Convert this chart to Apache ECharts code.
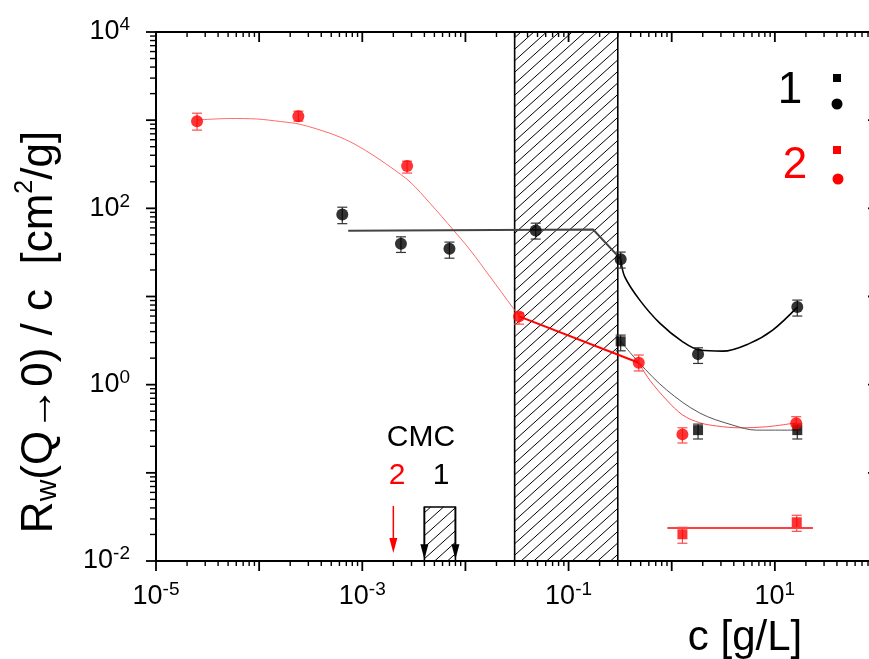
<!DOCTYPE html>
<html>
<head>
<meta charset="utf-8">
<script src="https://cdn.jsdelivr.net/npm/echarts@6/dist/echarts.min.js"></script>
<style>
  html, body { margin: 0; padding: 0; background: #fff; }
  #chart { width: 869px; height: 659px; }
</style>
</head>
<body>
<div id="chart"></div>
<script>
const FONT = '"Liberation Sans", Arial, Helvetica, sans-serif';
const RED = '#ff0000';

// ---- Sample 1 (black), circles: c [g/L], Rw/c [cm^2/g], error limits
const s1CircleC  = [6.4e-4, 0.00237, 0.0070, 0.048, 0.32, 1.80, 16.5];
const s1CircleR  = [85, 39.6, 34.8, 56, 26.5, 2.22, 7.6];
const s1CircleLo = [67, 31.6, 27.2, 44.8, 21.0, 1.74, 6.0];
const s1CircleHi = [103, 47.5, 41.4, 67.9, 31.9, 2.62, 9.1];

// ---- Sample 1 (black), squares
const s1SquareC  = [0.32, 1.80, 16.5];
const s1SquareR  = [3.10, 0.305, 0.305];
const s1SquareLo = [2.42, 0.242, 0.242];
const s1SquareHi = [3.65, 0.357, 0.357];

// ---- Sample 2 (red), circles
const s2CircleC  = [2.5e-5, 2.4e-4, 0.00272, 0.0331, 0.479, 1.27, 16.1];
const s2CircleR  = [975, 1110, 303, 5.95, 1.77, 0.273, 0.364];
const s2CircleLo = [771, 975, 251, 4.86, 1.43, 0.218, 0.306];
const s2CircleHi = [1200, 1265, 343, 6.49, 2.17, 0.324, 0.433];

// ---- Sample 2 (red), squares
const s2SquareC  = [1.27, 16.3];
const s2SquareR  = [0.0201, 0.0275];
const s2SquareLo = [0.0159, 0.0217];
const s2SquareHi = [0.0241, 0.033];

// ---- Guide curves
const guide2LowC = [2.5e-5, 5.2e-5, 9.5e-5, 1.6e-4, 2.49e-4, 4.86e-4, 7.6e-4, 1.19e-3, 1.86e-3, 2.9e-3, 4.54e-3, 7.64e-3, 0.0111, 0.0173, 0.0291, 0.0331];
const guide2LowR = [1004, 1044, 1031, 966, 898, 710, 570, 421, 296, 200, 114, 56.8, 33.7, 16.8, 7.35, 5.95];
const guide2MidC = [0.0331, 0.479];
const guide2MidR = [5.95, 1.77];
const guide2HighC = [0.479, 0.612, 0.895, 1.28, 1.87, 2.73, 4.56, 8.33, 16.3];
const guide2HighR = [1.77, 1.127, 0.668, 0.452, 0.370, 0.340, 0.324, 0.333, 0.370];
const guide2SquareC = [0.908, 23.4];
const guide2SquareR = [0.0237, 0.0237];

const guide1PlateauC = [7.3e-4, 0.173, 0.321];
const guide1PlateauR = [55.6, 57.5, 26.5];
const guide1HighC = [0.321, 0.351, 0.49, 0.766, 1.28, 1.87, 3.12, 5.70, 9.52, 16.5];
const guide1HighR = [26.3, 16.7, 9.1, 4.99, 3.06, 2.47, 2.40, 2.94, 4.16, 7.58];
const guide1SquareC = [0.321, 0.479, 0.895, 1.87, 3.90, 6.66, 16.3];
const guide1SquareR = [3.10, 1.79, 0.869, 0.477, 0.348, 0.305, 0.305];

// ---- Hatched concentration ranges [cMin, cMax, RMin, RMax]
const hatchRanges = [
  [0.03, 0.3, 0.01, 1e4],
  [0.004, 0.008, 0.01, 0.041]
];

// ---- CMC arrows [c, R start, R tip]
const cmcArrows2 = [[0.002, 0.042, 0.0123]];
const cmcArrows1 = [[0.004, 0.041, 0.0105], [0.008, 0.041, 0.0105]];

// ---- Axis ranges and labelled decades
const xMin = 1e-5, xMax = 100;
const yMin = 1e-2, yMax = 1e4;
const xLabelExps = [-5, -3, -1, 1];
const yLabelExps = [-2, 0, 2, 4];

function pairs(xs, ys) { return xs.map((x, i) => [x, ys[i]]); }
function errRows(xs, lo, hi) { return xs.map((x, i) => [x, lo[i], hi[i]]); }

// log-decade tick marks (major at decades, minor at 2..9)
function logTicks(min, max) {
  const out = [];
  const e0 = Math.round(Math.log10(min)), e1 = Math.round(Math.log10(max));
  for (let e = e0; e <= e1; e++) {
    for (let m = 1; m <= 9; m++) {
      const v = m * Math.pow(10, e);
      if (v > max * 1.0001) break;
      out.push([v, m === 1 ? 1 : 0]);
    }
  }
  return out;
}
const xTicks = logTicks(xMin, xMax).map(t => [t[0], yMin, t[1]]);
const yTicks = logTicks(yMin, yMax).map(t => [xMin, t[0], t[1]]);

function fmtLabel(exps) {
  return function (v) {
    const e = Math.round(Math.log10(v));
    if (exps.indexOf(e) < 0) return '';
    return '{b|10}{s|' + e + '}';
  };
}
const labelRich = {
  b: { fontSize: 27, fontFamily: FONT, color: '#000' },
  s: { fontSize: 19, fontFamily: FONT, color: '#000', padding: [0, 0, 14, 0] }
};

function errorBars(color) {
  return function (params, api) {
    const x = api.value(0);
    const a = api.coord([x, api.value(1)]);
    const b = api.coord([x, api.value(2)]);
    const w = 5;
    const st = { stroke: color, lineWidth: 1.2 };
    return {
      type: 'group', children: [
        { type: 'line', shape: { x1: a[0], y1: a[1], x2: b[0], y2: b[1] }, style: st },
        { type: 'line', shape: { x1: a[0] - w, y1: a[1], x2: a[0] + w, y2: a[1] }, style: st },
        { type: 'line', shape: { x1: b[0] - w, y1: b[1], x2: b[0] + w, y2: b[1] }, style: st }
      ]
    };
  };
}

function hatchRender(params, api) {
  const p0 = api.coord([api.value(0), api.value(2)]);
  const p1 = api.coord([api.value(1), api.value(3)]);
  const L = p0[0], R = p1[0], T = p1[1], B = p0[1];
  const k = 0.9;          // slope of hatch lines (dy/dx, rising to the right)
  const step = 11.5;      // vertical distance between hatch lines
  const children = [];
  // lines: y = c - k*x
  const cStart = T + k * L, cEnd = B + k * R;
  for (let c = cStart + step / 2; c < cEnd; c += step) {
    let xs = Math.max(L, (c - B) / k);
    let xe = Math.min(R, (c - T) / k);
    if (xe - xs > 0.5) {
      children.push({
        type: 'line',
        shape: { x1: xs, y1: c - k * xs, x2: xe, y2: c - k * xe },
        style: { stroke: '#000', lineWidth: 1 }
      });
    }
  }
  children.push({
    type: 'rect',
    shape: { x: L, y: T, width: R - L, height: B - T },
    style: { fill: 'none', stroke: '#000', lineWidth: 1.6 }
  });
  return { type: 'group', children: children };
}

function arrowRender(color) {
  return function (params, api) {
    const x = api.value(0);
    const a = api.coord([x, api.value(1)]);
    const tip = api.coord([x, api.value(2)]);
    const headLen = 15, headW = 4;
    return {
      type: 'group', children: [
        { type: 'line', shape: { x1: a[0], y1: a[1], x2: tip[0], y2: tip[1] - headLen + 2 }, style: { stroke: color, lineWidth: 1.5 } },
        { type: 'polygon', shape: { points: [[tip[0] - headW, tip[1] - headLen], [tip[0] + headW, tip[1] - headLen], [tip[0], tip[1]]] }, style: { fill: color } }
      ]
    };
  };
}

function xTickRender(params, api) {
  const v = api.value(0);
  const major = api.value(2) === 1;
  const bot = api.coord([v, yMin]);
  const top = api.coord([v, yMax]);
  const lb = major ? 10 : 5, lt = major ? 10 : 5;
  const st = { stroke: '#000', lineWidth: major ? 1.8 : 1.4 };
  return {
    type: 'group', children: [
      { type: 'line', shape: { x1: bot[0], y1: bot[1], x2: bot[0], y2: bot[1] + lb }, style: st },
      { type: 'line', shape: { x1: top[0], y1: top[1], x2: top[0], y2: top[1] + lt }, style: st }
    ]
  };
}

function yTickRender(params, api) {
  const v = api.value(1);
  const major = api.value(2) === 1;
  const left = api.coord([xMin, v]);
  const right = api.coord([xMax, v]);
  const len = major ? 10 : 6;
  const st = { stroke: '#000', lineWidth: major ? 1.8 : 1.4 };
  return {
    type: 'group', children: [
      { type: 'line', shape: { x1: left[0] - len, y1: left[1], x2: left[0], y2: left[1] }, style: st },
      { type: 'line', shape: { x1: right[0] - len, y1: right[1], x2: right[0], y2: right[1] }, style: st }
    ]
  };
}

const chart = echarts.init(document.getElementById('chart'), null, { renderer: 'canvas' });

const option = {
  animation: false,
  backgroundColor: '#fff',
  grid: {
    left: 156, top: 32, width: 722, height: 529,
    show: true, borderColor: '#000', borderWidth: 2,
    outerBoundsMode: 'none', containLabel: false
  },
  xAxis: {
    type: 'log', logBase: 10, min: xMin, max: xMax,
    axisLine: { show: false }, axisTick: { show: false },
    splitLine: { show: false }, minorTick: { show: false },
    axisLabel: { margin: 19, formatter: fmtLabel(xLabelExps), rich: labelRich, showMinLabel: true, showMaxLabel: true }
  },
  yAxis: {
    type: 'log', logBase: 10, min: yMin, max: yMax,
    axisLine: { show: false }, axisTick: { show: false },
    splitLine: { show: false }, minorTick: { show: false },
    axisLabel: { margin: 26, formatter: fmtLabel(yLabelExps), rich: labelRich, showMinLabel: true, showMaxLabel: true }
  },
  series: [
    { type: 'custom', name: 'hatch', clip: false, z: 1, data: hatchRanges,
      encode: { x: [0, 1], y: [2, 3] }, renderItem: hatchRender },
    { type: 'custom', name: 'xticks', clip: false, z: 5, data: xTicks,
      encode: { x: 0, y: 1 }, renderItem: xTickRender },
    { type: 'custom', name: 'yticks', clip: false, z: 5, data: yTicks,
      encode: { x: 0, y: 1 }, renderItem: yTickRender },
    { type: 'custom', name: 'cmc2', clip: false, z: 4, data: cmcArrows2,
      encode: { x: 0, y: [1, 2] }, renderItem: arrowRender(RED) },
    { type: 'custom', name: 'cmc1', clip: false, z: 4, data: cmcArrows1,
      encode: { x: 0, y: [1, 2] }, renderItem: arrowRender('#000') },

    // guide curves
    { type: 'line', z: 2, data: pairs(guide2LowC, guide2LowR), showSymbol: false, smooth: 0.3,
      lineStyle: { color: '#ff6b6b', width: 1 } },
    { type: 'line', z: 2, data: pairs(guide2MidC, guide2MidR), showSymbol: false,
      lineStyle: { color: RED, width: 2 } },
    { type: 'line', z: 2, data: pairs(guide2HighC, guide2HighR), showSymbol: false, smooth: 0.35,
      lineStyle: { color: '#ff5050', width: 1 } },
    { type: 'line', z: 2, data: pairs(guide2SquareC, guide2SquareR), showSymbol: false,
      lineStyle: { color: RED, width: 1.6 } },
    { type: 'line', z: 2, data: pairs(guide1PlateauC, guide1PlateauR), showSymbol: false,
      lineStyle: { color: '#444', width: 2 } },
    { type: 'line', z: 2, data: pairs(guide1HighC, guide1HighR), showSymbol: false, smooth: 0.35,
      lineStyle: { color: '#000', width: 1.6 } },
    { type: 'line', z: 2, data: pairs(guide1SquareC, guide1SquareR), showSymbol: false, smooth: 0.35,
      lineStyle: { color: '#555', width: 1 } },

    // error bars
    { type: 'custom', z: 3, clip: false, data: errRows(s1CircleC, s1CircleLo, s1CircleHi),
      encode: { x: 0, y: [1, 2] }, renderItem: errorBars('#333') },
    { type: 'custom', z: 3, clip: false, data: errRows(s1SquareC, s1SquareLo, s1SquareHi),
      encode: { x: 0, y: [1, 2] }, renderItem: errorBars('#333') },
    { type: 'custom', z: 3, clip: false, data: errRows(s2CircleC, s2CircleLo, s2CircleHi),
      encode: { x: 0, y: [1, 2] }, renderItem: errorBars('#ff4a4a') },
    { type: 'custom', z: 3, clip: false, data: errRows(s2SquareC, s2SquareLo, s2SquareHi),
      encode: { x: 0, y: [1, 2] }, renderItem: errorBars('#ff4a4a') },

    // measured points
    { type: 'scatter', z: 6, data: pairs(s1CircleC, s1CircleR), symbol: 'circle', symbolSize: 12,
      itemStyle: { color: '#000' } },
    { type: 'scatter', z: 6, data: pairs(s1SquareC, s1SquareR), symbol: 'rect', symbolSize: 10,
      itemStyle: { color: '#000' } },
    { type: 'scatter', z: 6, data: pairs(s2CircleC, s2CircleR), symbol: 'circle', symbolSize: 12,
      itemStyle: { color: RED } },
    { type: 'scatter', z: 6, data: pairs(s2SquareC, s2SquareR), symbol: 'rect', symbolSize: 10,
      itemStyle: { color: RED } }
  ],
  graphic: [
    // axis titles
    { type: 'text', x: 745, y: 638, style: { text: 'c [g/L]', font: '42px ' + FONT, fill: '#000',
      textAlign: 'center', textVerticalAlign: 'middle' } },
    { type: 'text', x: 40, y: 332, rotation: Math.PI / 2,
      style: {
        text: '{a|R}{w|w}{a|(Q\u21920) / c  [cm}{p|2}{a|/g]}',
        textAlign: 'center', textVerticalAlign: 'middle',
        rich: {
          a: { fontSize: 44, fontFamily: FONT, fill: '#000' },
          w: { fontSize: 30, fontFamily: FONT, fill: '#000', padding: [16, 0, 0, 0] },
          p: { fontSize: 25, fontFamily: FONT, fill: '#000', padding: [0, 0, 30, 0] }
        }
      } },
    // CMC annotation
    { type: 'text', x: 421, y: 438, style: { text: 'CMC', font: '30px ' + FONT, fill: '#000',
      textAlign: 'center', textVerticalAlign: 'middle' } },
    { type: 'text', x: 397, y: 476, style: { text: '2', font: '30px ' + FONT, fill: RED,
      textAlign: 'center', textVerticalAlign: 'middle' } },
    { type: 'text', x: 441, y: 476, style: { text: '1', font: '30px ' + FONT, fill: '#000',
      textAlign: 'center', textVerticalAlign: 'middle' } },
    // sample key
    { type: 'text', x: 790, y: 91, style: { text: '1', font: '44px ' + FONT, fill: '#000',
      textAlign: 'center', textVerticalAlign: 'middle' } },
    { type: 'text', x: 795, y: 166, style: { text: '2', font: '44px ' + FONT, fill: RED,
      textAlign: 'center', textVerticalAlign: 'middle' } },
    { type: 'rect', shape: { x: 833, y: 74, width: 8, height: 8 }, style: { fill: '#000' } },
    { type: 'circle', shape: { cx: 837, cy: 104, r: 5.5 }, style: { fill: '#000' } },
    { type: 'rect', shape: { x: 833, y: 146, width: 8, height: 8 }, style: { fill: RED } },
    { type: 'circle', shape: { cx: 838, cy: 179, r: 5.5 }, style: { fill: RED } }
  ]
};

chart.setOption(option);
</script>
</body>
</html>
